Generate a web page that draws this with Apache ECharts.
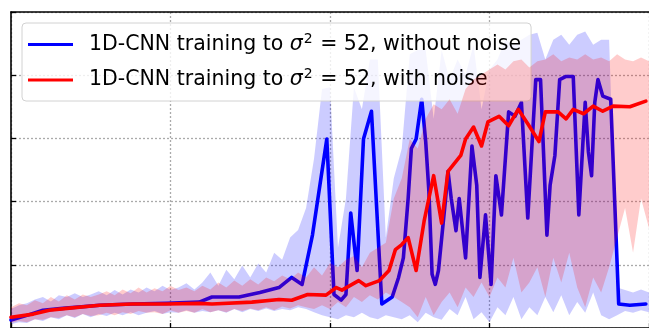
<!DOCTYPE html>
<html>
<head>
<meta charset="utf-8">
<script src="https://cdn.jsdelivr.net/npm/echarts@6/dist/echarts.min.js"></script>
<style>
html,body{margin:0;padding:0;background:#fff;}
#chart{width:649px;height:328px;}
</style>
</head>
<body>
<div id="chart"></div>
<script>
// ---- data (x in training-progress units 0..4, y in plot units 0..5) ----
const legendLabels = [
  '1D-CNN training to {it|σ}{sup|2} = 52, without noise',
  '1D-CNN training to {it|σ}{sup|2} = 52, with noise'
];
const seriesNames = ['without noise', 'with noise'];

// smoothed curve, without noise
const blueX = [0,0.10,0.20,0.325,0.556,0.76,0.975,1.18,1.26,1.31,1.43,1.56,1.68,1.76,1.825,1.89,1.98,2.025,2.07,2.10,2.13,2.17,2.21,2.26,2.325,2.39,2.43,2.46,2.49,2.51,2.54,2.575,2.60,2.62,2.64,2.66,2.68,2.725,2.74,2.76,2.79,2.81,2.85,2.89,2.92,2.94,2.975,3.01,3.04,3.075,3.12,3.16,3.20,3.24,3.29,3.32,3.36,3.38,3.41,3.44,3.48,3.525,3.56,3.60,3.62,3.64,3.66,3.68,3.71,3.76,3.81,3.88,3.98];
const blueY = [0.125,0.20,0.28,0.31,0.36,0.38,0.39,0.41,0.49,0.49,0.49,0.56,0.64,0.80,0.69,1.47,2.99,0.53,0.44,0.53,1.82,0.91,2.99,3.43,0.38,0.49,0.80,1.11,2.05,2.84,2.99,3.62,2.95,2.16,0.85,0.69,0.91,2.05,2.48,2.05,1.54,2.05,1.11,2.88,2.26,0.80,1.79,0.69,2.41,1.79,3.42,3.35,3.57,1.74,3.93,3.93,1.47,2.26,2.73,3.93,3.98,3.98,1.79,3.57,2.79,2.41,3.57,3.93,3.67,3.62,0.38,0.36,0.38];

// smoothed curve, with noise
const redX = [0,0.14,0.24,0.35,0.556,0.76,0.975,1.18,1.26,1.51,1.68,1.76,1.86,1.975,2.04,2.075,2.18,2.225,2.31,2.37,2.41,2.45,2.49,2.54,2.59,2.65,2.70,2.74,2.82,2.85,2.90,2.95,2.99,3.06,3.12,3.18,3.24,3.31,3.35,3.43,3.48,3.525,3.59,3.65,3.71,3.775,3.88,3.98];
const redY = [0.17,0.22,0.28,0.31,0.36,0.38,0.38,0.39,0.38,0.41,0.45,0.44,0.53,0.52,0.64,0.60,0.75,0.67,0.75,0.91,1.24,1.32,1.43,0.91,1.69,2.41,1.66,2.48,2.73,2.99,3.18,2.88,3.26,3.35,3.20,3.46,3.23,2.95,3.42,3.42,3.31,3.46,3.39,3.51,3.43,3.51,3.50,3.59];

// raw-run spread (lower / upper envelope), sampled every 0.05
const bandX = Array.from({length: 81}, (_, i) => +(i * 0.05).toFixed(2));
const blueLo = [0.06,0.09,0.08,0.14,0.11,0.17,0.14,0.20,0.16,0.22,0.17,
  0.22,0.19,0.24,0.20,0.25,0.20,0.24,0.27,0.22,0.25,0.24,0.28,0.24,0.27,
  0.25,0.28,0.24,0.30,0.25,0.30,0.27,0.31,0.27,0.30,0.28,0.33,0.30,
  0.25,0.20,0.17,0.14,0.20,0.17,0.24,0.17,0.14,0.20,0.17,
  0.14,0.20,0.09,0.24,0.17,0.13,0.30,0.20,0.49,0.14,0.25,0.09,0.33,0.20,0.49,0.14,0.33,0.20,0.49,0.25,0.52,0.20,0.41,0.24,0.56,0.20,0.14,
  0.20,0.27,0.24,0.28,0.25];
const blueHi = [0.30,0.36,0.39,0.45,0.49,0.42,0.52,0.49,0.55,0.49,0.53,
  0.58,0.52,0.60,0.53,0.61,0.56,0.64,0.58,0.67,0.60,0.64,0.71,0.61,0.72,
  0.88,0.67,0.92,0.77,0.99,0.80,1.02,0.88,1.19,1.08,1.43,1.55,1.90,
  2.68,3.78,3.81,1.27,2.05,3.81,3.46,4.25,4.25,1.43,2.37,
  2.84,4.33,4.40,4.40,3.31,4.40,3.93,4.25,4.01,4.48,3.46,4.09,
  4.25,4.56,4.48,4.56,4.64,4.67,4.25,4.56,4.64,4.48,4.64,4.69,4.48,4.56,4.56,
  0.64,0.60,0.56,0.61,0.56];
const redLo = [0.08,0.11,0.09,0.14,0.13,0.17,0.16,0.20,0.17,0.22,0.19,
  0.20,0.24,0.20,0.25,0.22,0.27,0.24,0.25,0.22,0.28,0.24,0.27,0.24,0.30,
  0.25,0.28,0.25,0.30,0.27,0.31,0.28,0.33,0.28,0.34,0.31,0.36,0.33,
  0.30,0.36,0.30,0.41,0.33,0.49,0.41,0.52,0.45,0.56,0.49,
  0.41,0.33,0.17,0.49,0.20,0.41,0.56,0.33,0.64,0.49,0.72,0.49,
  0.80,0.64,1.11,0.56,0.72,0.96,0.49,1.11,0.72,1.19,0.64,0.33,0.80,0.56,0.96,
  1.43,1.90,1.19,2.05,1.58];
const redHi = [0.33,0.39,0.36,0.44,0.39,0.49,0.42,0.52,0.45,0.53,0.49,
  0.53,0.58,0.52,0.61,0.55,0.64,0.56,0.63,0.58,0.67,0.60,0.64,0.58,0.67,
  0.61,0.72,0.64,0.75,0.67,0.77,0.69,0.80,0.74,0.83,0.77,0.88,0.80,
  0.96,0.83,1.03,0.96,1.08,1.14,0.96,1.19,1.27,1.35,2.05,
  2.37,2.99,2.84,3.31,3.54,3.46,3.62,3.39,3.78,3.93,4.01,4.09,
  4.17,4.09,4.22,4.25,4.12,4.22,4.25,4.33,4.22,4.28,4.25,4.33,4.25,4.28,4.22,
  4.33,4.25,4.22,4.28,4.22];

const xTicks = {min: 0, max: 4, interval: 1};
const yTicks = {min: 0, max: 5, interval: 1};

// ---- chart ----
const chart = echarts.init(document.getElementById('chart'), null, {renderer: 'canvas'});

function bandRenderer(lo, hi, color) {
  return function (params, api) {
    if (params.dataIndex !== 0) return null;
    const pts = [];
    for (let i = 0; i < bandX.length; i++) pts.push(api.coord([bandX[i], hi[i]]));
    for (let i = bandX.length - 1; i >= 0; i--) pts.push(api.coord([bandX[i], lo[i]]));
    return {type: 'polygon', shape: {points: pts}, style: {fill: color}};
  };
}

const gridLine = {show: true, lineStyle: {color: '#aaaaaa', width: 1.3, type: [2, 2]}};
const spine = {show: true, onZero: false, lineStyle: {color: '#000', width: 1.6}};
const tick = {show: true, inside: true, length: 5, lineStyle: {color: '#000', width: 1.3}};

chart.setOption({
  animation: false,
  backgroundColor: '#fff',
  grid: {left: 11, top: 12, width: 640, height: 319, containLabel: false},
  xAxis: [
    {type: 'value', min: xTicks.min, max: xTicks.max, interval: xTicks.interval,
     axisLine: spine, axisTick: tick, axisLabel: {show: false}, splitLine: gridLine},
    {type: 'value', position: 'top', min: xTicks.min, max: xTicks.max, interval: xTicks.interval,
     axisLine: spine, axisTick: {show: false}, axisLabel: {show: false}, splitLine: {show: false}}
  ],
  yAxis: {type: 'value', min: yTicks.min, max: yTicks.max, interval: yTicks.interval,
     axisLine: spine, axisTick: tick, axisLabel: {show: false}, splitLine: gridLine},
  legend: {
    data: seriesNames,
    left: 22, top: 23, orient: 'vertical',
    padding: [9, 10, 10, 6],
    itemGap: 12,
    itemWidth: 45, itemHeight: 3,
    icon: 'rect',
    backgroundColor: 'rgba(255,255,255,0.8)',
    borderColor: '#d2d2d2', borderWidth: 1, borderRadius: 4,
    formatter: function (name) { return legendLabels[seriesNames.indexOf(name)]; },
    textStyle: {
      fontFamily: 'DejaVu Sans', fontSize: 20.5, color: '#000', lineHeight: 22,
      padding: [0, 0, 0, 11],
      rich: {
        it: {fontFamily: 'DejaVu Sans', fontSize: 20.5, fontStyle: 'italic', color: '#000'},
        sup: {fontFamily: 'DejaVu Sans', fontSize: 14, color: '#000', padding: [0, 1, 11, 1]}
      }
    }
  },
  series: [
    {type: 'custom', name: 'band0', z: 2, silent: true,
     renderItem: bandRenderer(blueLo, blueHi, 'rgba(0,0,255,0.2)'),
     encode: {x: 0, y: [1, 2]},
     data: bandX.map((x, i) => [x, blueLo[i], blueHi[i]])},
    {type: 'line', name: seriesNames[0], z: 3, showSymbol: false, symbol: 'none',
     color: '#0000ff', lineStyle: {color: '#0000ff', width: 3.6, join: 'round', cap: 'round'},
     data: blueX.map((x, i) => [x, blueY[i]])},
    {type: 'custom', name: 'band1', z: 4, silent: true,
     renderItem: bandRenderer(redLo, redHi, 'rgba(255,0,0,0.2)'),
     encode: {x: 0, y: [1, 2]},
     data: bandX.map((x, i) => [x, redLo[i], redHi[i]])},
    {type: 'line', name: seriesNames[1], z: 5, showSymbol: false, symbol: 'none',
     color: '#ff0000', lineStyle: {color: '#ff0000', width: 3.6, join: 'round', cap: 'round'},
     data: redX.map((x, i) => [x, redY[i]])}
  ]
});
</script>
</body>
</html>
